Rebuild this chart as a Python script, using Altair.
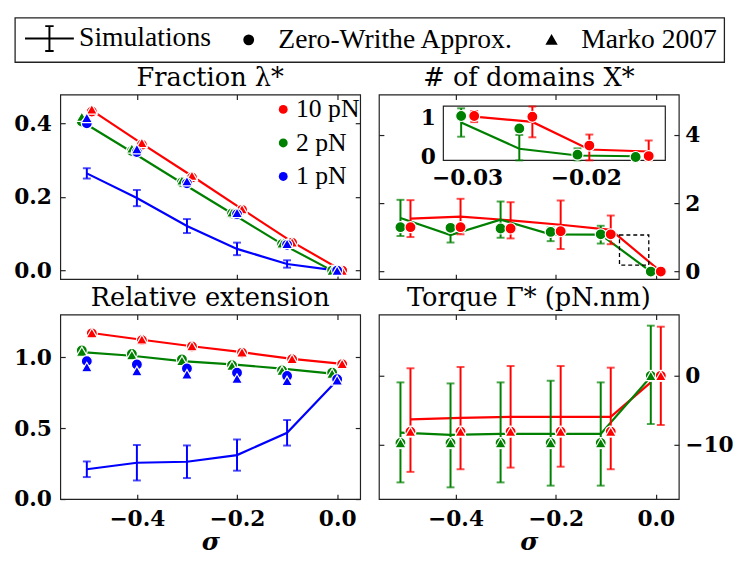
import altair as alt
import pandas as pd

# ---------------- data ----------------
FORCES = ["10 pN", "2 pN", "1 pN"]
COLORS = ["#ff0000", "#008000", "#0000ff"]
KINDS = ["Simulations", "Zero-Writhe Approx.", "Marko 2007"]
IBEAM = "M-5.5,0H5.5M0,-2.8V2.8M-0.95,-2.8H0.95M-0.95,2.8H0.95"

SIGMA_10 = [-0.49, -0.39, -0.29, -0.19, -0.09, 0.01]
SIGMA_2 = [-0.51, -0.41, -0.31, -0.21, -0.11, -0.01]
SIGMA_1 = [-0.50, -0.40, -0.30, -0.20, -0.10, 0.00]
SIGMA_TICKS = [-0.4, -0.2, 0.0]
SIGMA_DOMAIN = [-0.553, 0.046]

# Fraction lambda*
FRAC_SIM_10 = [0.435, 0.345, 0.257, 0.167, 0.078, 0.000]
FRAC_ERR_10 = [0.004, 0.004, 0.004, 0.003, 0.003, 0.000]
FRAC_SIM_2 = [0.405, 0.322, 0.238, 0.155, 0.072, 0.000]
FRAC_ERR_2 = [0.004, 0.004, 0.004, 0.003, 0.003, 0.000]
FRAC_SIM_1 = [0.264, 0.197, 0.121, 0.059, 0.018, 0.000]
FRAC_ERR_1 = [0.014, 0.022, 0.019, 0.017, 0.010, 0.000]
FRAC_ZW_10 = [0.432, 0.342, 0.253, 0.165, 0.076, 0.000]
FRAC_MK_10 = [0.438, 0.347, 0.258, 0.167, 0.077, 0.000]
FRAC_ZW_2 = [0.405, 0.325, 0.240, 0.155, 0.072, 0.000]
FRAC_MK_2 = [0.418, 0.332, 0.245, 0.158, 0.074, 0.000]
FRAC_ZW_1 = [0.400, 0.322, 0.237, 0.153, 0.070, 0.000]
FRAC_MK_1 = [0.415, 0.330, 0.243, 0.157, 0.073, 0.000]
FRAC_DOMAIN = [-0.023, 0.478]
FRAC_TICKS = [0.0, 0.2, 0.4]

# Number of domains X*
DOM_SIM_10 = [1.55, 1.61, 1.50, 1.37, 1.22, 0.00]
DOM_ERR_10 = [0.54, 0.52, 0.53, 0.71, 0.42, 0.00]
DOM_SIM_2 = [1.57, 1.07, 1.52, 1.09, 1.08, 0.00]
DOM_ERR_2 = [0.53, 0.22, 0.53, 0.20, 0.26, 0.00]
DOM_ZW_10 = [1.30, 1.30, 1.26, 1.18, 1.09, 0.00]
DOM_ZW_2 = [1.30, 1.28, 1.26, 1.16, 1.09, 0.00]
DOM_DOMAIN = [-0.22, 5.18]
DOM_TICKS = [0, 2, 4]
ZOOM_BOX_X = [-0.0725, -0.014]
ZOOM_BOX_Y = [0.19, 1.07]

# inset of X*
INS_SIGMA_10 = [-0.0294, -0.0245, -0.0197, -0.0147]
INS_SIGMA_2 = [-0.0305, -0.0256, -0.0207, -0.0158]
INS_SIM_10 = [1.025, 0.89, 0.19, 0.14]
INS_ERR_10 = [0.14, 0.39, 0.38, 0.28]
INS_SIM_2 = [0.875, 0.21, 0.04, 0.02]
INS_ERR_2 = [0.36, 0.35, 0.18, 0.00]
INS_ZW_10 = [1.04, 1.02, 0.29, 0.025]
INS_ZW_2 = [1.04, 0.725, 0.06, 0.00]
INS_X_DOMAIN = [-0.032, -0.0133]
INS_Y_DOMAIN = [-0.085, 1.29]
INS_X_TICKS = [-0.03, -0.02]
INS_Y_TICKS = [0, 1]

# Relative extension
EXT_SIM_10 = [1.170, 1.123, 1.077, 1.035, 0.988, 0.953]
EXT_ERR_10 = [0.004, 0.004, 0.004, 0.004, 0.004, 0.000]
EXT_SIM_2 = [1.035, 1.010, 0.972, 0.949, 0.919, 0.884]
EXT_ERR_2 = [0.006, 0.006, 0.006, 0.006, 0.006, 0.000]
EXT_SIM_1 = [0.210, 0.256, 0.263, 0.310, 0.467, 0.837]
EXT_ERR_1 = [0.055, 0.125, 0.115, 0.110, 0.090, 0.000]
EXT_ZW_10 = [1.168, 1.120, 1.075, 1.032, 0.985, 0.950]
EXT_MK_10 = [1.170, 1.125, 1.078, 1.035, 0.988, 0.953]
EXT_ZW_2 = [1.047, 1.023, 0.984, 0.944, 0.907, 0.890]
EXT_MK_2 = [1.040, 1.015, 0.975, 0.940, 0.905, 0.885]
EXT_ZW_1 = [0.972, 0.949, 0.920, 0.890, 0.867, 0.844]
EXT_MK_1 = [0.930, 0.902, 0.879, 0.849, 0.833, 0.837]
EXT_DOMAIN = [0.0, 1.3]
EXT_TICKS = [0.0, 0.5, 1.0]

# Torque Gamma*
TOR_LINE_SIGMA_10 = [-0.49, -0.39, -0.29, -0.19, -0.09, -0.01]
TOR_SIM_10 = [-6.33, -6.10, -5.95, -5.95, -5.95, -0.95]
TOR_LO_10 = [-13.95, -13.57, -13.33, -13.20, -13.57, -7.14]
TOR_HI_10 = [1.10, 1.29, 1.43, 1.43, 1.19, 7.14]
TOR_SIM_2 = [-8.24, -8.57, -8.43, -8.43, -8.43, -0.14]
TOR_LO_2 = [-15.48, -16.20, -15.48, -15.95, -15.95, -7.00]
TOR_HI_2 = [-0.95, -1.10, -0.95, -0.71, -0.95, 7.29]
TOR_ZW_10 = [-8.10, -8.10, -8.10, -8.10, -8.10, 0.00]
TOR_MK_10 = [-8.10, -8.10, -8.10, -8.10, -8.10, 0.00]
TOR_ZW_2 = [-9.76, -9.76, -9.76, -9.76, -9.76, 0.00]
TOR_MK_2 = [-9.76, -9.76, -9.76, -9.76, -9.76, 0.00]
TOR_DOMAIN = [-17.9, 8.9]
TOR_TICKS = [-10, 0]

# ---------------- helpers ----------------
TITLE_FONT = "DejaVu Serif"
TICK_FONT = "DejaVu Serif"
LEG_FONT = "Liberation Serif"
TICK_SIZE = 22
W, H = 304, 187

COLOR_SCALE = alt.Scale(domain=FORCES, range=COLORS)
SHAPE_SCALE = alt.Scale(domain=KINDS, range=[IBEAM, "circle", "triangle-up"])

COLOR_LEGEND = alt.Legend(title=None, orient="none", legendX=213, legendY=2, padding=0,
                          labelFont=LEG_FONT, labelFontSize=26, labelColor="black",
                          symbolSize=81, symbolType="circle", symbolStrokeWidth=0,
                          symbolOpacity=1, labelOffset=0, rowPadding=8)
SHAPE_LEGEND = alt.Legend(title=None, orient="none", direction="horizontal",
                          legendX=-46, legendY=-78, padding=7, strokeColor="#222222",
                          labelFont=LEG_FONT, labelFontSize=28, labelColor="black", labelLimit=400,
                          symbolSize=81, symbolFillColor="black", symbolStrokeColor="black",
                          symbolStrokeWidth=2, symbolOpacity=1, symbolOffset=14,
                          labelOffset=16, columnPadding=10)


def lines_df(series):
    return pd.DataFrame([{"force": f, "x": x, "y": y}
                         for f, xs, ys in series for x, y in zip(xs, ys)])


def err_df(series):
    return pd.DataFrame([{"force": f, "x": x, "lo": lo, "hi": hi}
                         for f, xs, los, his in series for x, lo, hi in zip(xs, los, his)])


def sym_err(force, xs, ys, es):
    return (force, xs, [y - e for y, e in zip(ys, es)], [y + e for y, e in zip(ys, es)])


def pts_df(series):
    return pd.DataFrame([{"force": f, "kind": k, "x": x, "y": y}
                         for f, k, xs, ys in series for x, y in zip(xs, ys)])


def ax(orient, values, fmt=None, labels=False, title=None, size=5, offset=-5, pad=8):
    kw = dict(orient=orient, values=values, labels=labels, domain=False, grid=False,
              ticks=True, tickSize=size, tickWidth=1.2, tickColor="#222222",
              offset=offset, title=title)
    if labels:
        kw.update(format=fmt, labelFont=TICK_FONT, labelFontSize=TICK_SIZE,
                  labelFontWeight="bold", labelColor="black", labelPadding=pad,
                  labelFlush=False, labelOverlap=False)
    if title:
        kw.update(titleFont=TICK_FONT, titleFontSize=25, titleFontStyle="italic",
                  titleFontWeight="bold", titleColor="black", titlePadding=0)
    return alt.Axis(**kw)


def sc(domain, rng=None, clamp=False):
    if rng is None:
        return alt.Scale(domain=domain, nice=False, zero=False)
    return alt.Scale(domain=domain, range=rng, nice=False, zero=False, clamp=clamp)


def data_layers(lines, errs, pts, xsc, ysc, ax_main, ax_other, legends=False):
    col = alt.Color("force:N", scale=COLOR_SCALE, legend=None)
    out = []
    if legends:
        # invisible copy of the markers that carries the two legends
        out.append(alt.Chart(pts).mark_point(filled=True, size=110, opacity=0).encode(
            x=alt.X("x:Q", scale=xsc(), axis=None),
            y=alt.Y("y:Q", scale=ysc(), axis=None),
            color=alt.Color("force:N", scale=COLOR_SCALE, legend=COLOR_LEGEND),
            shape=alt.Shape("kind:N", scale=SHAPE_SCALE, legend=SHAPE_LEGEND)))
    out.append(alt.Chart(lines).mark_line(strokeWidth=2.2).encode(
        x=alt.X("x:Q", scale=xsc(), axis=ax_main[0]),
        y=alt.Y("y:Q", scale=ysc(), axis=ax_main[1]),
        color=col))
    out.append(alt.Chart(errs).mark_rule(strokeWidth=2).encode(
        x=alt.X("x:Q", scale=xsc(), axis=ax_other[0]),
        y=alt.Y("lo:Q", scale=ysc(), axis=ax_other[1]),
        y2="hi:Q", color=col))
    out.append(alt.Chart(errs).transform_fold(["lo", "hi"], as_=["end", "v"]).mark_tick(
        orient="horizontal", size=8, thickness=2).encode(
        x=alt.X("x:Q", scale=xsc(), axis=None),
        y=alt.Y("v:Q", scale=ysc(), axis=None), color=col))
    out.append(alt.Chart(pts).mark_point(filled=True, size=125, opacity=1, stroke="white",
                                         strokeWidth=1.2).encode(
        x=alt.X("x:Q", scale=xsc(), axis=None),
        y=alt.Y("y:Q", scale=ysc(), axis=None),
        color=col,
        shape=alt.Shape("kind:N", scale=SHAPE_SCALE, legend=None)))
    return out


def panel(lines, errs, pts, ydom, yvals, yfmt, yside, xlabels, title, legends=False,
          extras=(), ypad=8):
    other = "left" if yside == "right" else "right"
    xsc = lambda: sc(SIGMA_DOMAIN)
    ysc = lambda: sc(ydom)
    ax_main = (ax("bottom", SIGMA_TICKS, ".1f", labels=xlabels,
                  title="σ" if xlabels else None, pad=10),
               ax(yside, yvals, yfmt, labels=True, pad=ypad))
    ax_other = (ax("top", SIGMA_TICKS), ax(other, yvals))
    layers = data_layers(lines, errs, pts, xsc, ysc, ax_main, ax_other, legends)
    layers += [e(xsc, ysc) if callable(e) else e for e in extras]
    return alt.layer(*layers).resolve_scale(x="independent", y="independent").properties(
        width=W, height=H,
        title=alt.TitleParams(text=title, font=TITLE_FONT, fontSize=26, fontWeight="normal",
                              color="black", offset=3, anchor="middle"))


# ---------------- panel A: fraction ----------------
A = panel(
    lines_df([("10 pN", SIGMA_10, FRAC_SIM_10), ("2 pN", SIGMA_2, FRAC_SIM_2),
              ("1 pN", SIGMA_1, FRAC_SIM_1)]),
    err_df([sym_err("10 pN", SIGMA_10, FRAC_SIM_10, FRAC_ERR_10),
            sym_err("2 pN", SIGMA_2, FRAC_SIM_2, FRAC_ERR_2),
            sym_err("1 pN", SIGMA_1, FRAC_SIM_1, FRAC_ERR_1)]),
    pts_df([("10 pN", KINDS[1], SIGMA_10, FRAC_ZW_10), ("10 pN", KINDS[2], SIGMA_10, FRAC_MK_10),
            ("2 pN", KINDS[1], SIGMA_2, FRAC_ZW_2), ("2 pN", KINDS[2], SIGMA_2, FRAC_MK_2),
            ("1 pN", KINDS[1], SIGMA_1, FRAC_ZW_1), ("1 pN", KINDS[2], SIGMA_1, FRAC_MK_1)]),
    FRAC_DOMAIN, FRAC_TICKS, ".1f", "left", False, "Fraction λ*", legends=True, ypad=9)

# ---------------- panel B: domains + inset ----------------
def zoom_box(xsc, ysc):
    df = pd.DataFrame([{"x1": ZOOM_BOX_X[0], "x2": ZOOM_BOX_X[1],
                        "y1": ZOOM_BOX_Y[0], "y2": ZOOM_BOX_Y[1]}])
    return alt.Chart(df).mark_rect(filled=False, stroke="black", strokeWidth=1.3,
                                   strokeDash=[4, 3]).encode(
        x=alt.X("x1:Q", scale=xsc(), axis=None), x2="x2:Q",
        y=alt.Y("y1:Q", scale=ysc(), axis=None), y2="y2:Q")


IX0, IX1, IY0, IY1 = 65.3, 290.3, 11.7, 66.7
ins_xsc = lambda: sc(INS_X_DOMAIN, [IX0, IX1], clamp=True)
ins_ysc = lambda: sc(INS_Y_DOMAIN, [IY1, IY0], clamp=True)


def ins_frame():
    df = pd.DataFrame([{"x1": INS_X_DOMAIN[0], "x2": INS_X_DOMAIN[1],
                        "y1": INS_Y_DOMAIN[0], "y2": INS_Y_DOMAIN[1]}])
    return alt.Chart(df).mark_rect(fill="white", stroke="#222222", strokeWidth=1.2).encode(
        x=alt.X("x1:Q", scale=ins_xsc(), axis=None), x2="x2:Q",
        y=alt.Y("y1:Q", scale=ins_ysc(), axis=None), y2="y2:Q")


ins_ax_main = (ax("bottom", INS_X_TICKS, ".2f", labels=True, size=4,
                  offset=(IY1 - 4) - H, pad=7),
               ax("left", INS_Y_TICKS, "d", labels=True, size=4, offset=-(IX0 + 4), pad=8))
ins_ax_other = (ax("top", INS_X_TICKS, size=4, offset=-(IY0 + 4)),
                ax("right", INS_Y_TICKS, size=4, offset=(IX1 - 4) - W))

ins_layers = [ins_frame()] + data_layers(
    lines_df([("10 pN", INS_SIGMA_10, INS_SIM_10), ("2 pN", INS_SIGMA_2, INS_SIM_2)]),
    err_df([sym_err("10 pN", INS_SIGMA_10, INS_SIM_10, INS_ERR_10),
            sym_err("2 pN", INS_SIGMA_2, INS_SIM_2, INS_ERR_2)]),
    pts_df([("2 pN", KINDS[1], INS_SIGMA_2, INS_ZW_2), ("10 pN", KINDS[1], INS_SIGMA_10, INS_ZW_10)]),
    ins_xsc, ins_ysc, ins_ax_main, ins_ax_other)

B = panel(
    lines_df([("10 pN", SIGMA_10, DOM_SIM_10), ("2 pN", SIGMA_2, DOM_SIM_2)]),
    err_df([sym_err("10 pN", SIGMA_10, DOM_SIM_10, DOM_ERR_10),
            sym_err("2 pN", SIGMA_2, DOM_SIM_2, DOM_ERR_2)]),
    pts_df([("2 pN", KINDS[1], SIGMA_2, DOM_ZW_2), ("10 pN", KINDS[1], SIGMA_10, DOM_ZW_10)]),
    DOM_DOMAIN, DOM_TICKS, "d", "right", False, "# of domains X*",
    extras=[zoom_box] + ins_layers, ypad=6)

# ---------------- panel C: extension ----------------
C = panel(
    lines_df([("10 pN", SIGMA_10, EXT_SIM_10), ("2 pN", SIGMA_2, EXT_SIM_2),
              ("1 pN", SIGMA_1, EXT_SIM_1)]),
    err_df([sym_err("10 pN", SIGMA_10, EXT_SIM_10, EXT_ERR_10),
            sym_err("2 pN", SIGMA_2, EXT_SIM_2, EXT_ERR_2),
            sym_err("1 pN", SIGMA_1, EXT_SIM_1, EXT_ERR_1)]),
    pts_df([("10 pN", KINDS[1], SIGMA_10, EXT_ZW_10), ("10 pN", KINDS[2], SIGMA_10, EXT_MK_10),
            ("2 pN", KINDS[1], SIGMA_2, EXT_ZW_2), ("2 pN", KINDS[2], SIGMA_2, EXT_MK_2),
            ("1 pN", KINDS[1], SIGMA_1, EXT_ZW_1), ("1 pN", KINDS[2], SIGMA_1, EXT_MK_1)]),
    EXT_DOMAIN, EXT_TICKS, ".1f", "left", True, "Relative extension", ypad=9)

# ---------------- panel D: torque ----------------
D = panel(
    lines_df([("10 pN", TOR_LINE_SIGMA_10, TOR_SIM_10), ("2 pN", SIGMA_2, TOR_SIM_2)]),
    err_df([("2 pN", SIGMA_2, TOR_LO_2, TOR_HI_2), ("10 pN", SIGMA_10, TOR_LO_10, TOR_HI_10)]),
    pts_df([("2 pN", KINDS[1], SIGMA_2, TOR_ZW_2), ("2 pN", KINDS[2], SIGMA_2, TOR_MK_2),
            ("10 pN", KINDS[1], SIGMA_10, TOR_ZW_10), ("10 pN", KINDS[2], SIGMA_10, TOR_MK_10)]),
    TOR_DOMAIN, TOR_TICKS, "d", "right", True, "Torque Γ* (pN.nm)", ypad=6)

chart = alt.concat(A, B, C, D, columns=2, spacing={"row": 36, "column": 19},
                   bounds="flush").properties(
    padding={"left": 5, "top": 5, "right": 5, "bottom": 2}, background="white"
).configure_view(stroke="#222222", strokeWidth=1.2).configure_legend(strokeWidth=1.3)

chart.save("out.html", embed_options={"renderer": "svg", "actions": False})
